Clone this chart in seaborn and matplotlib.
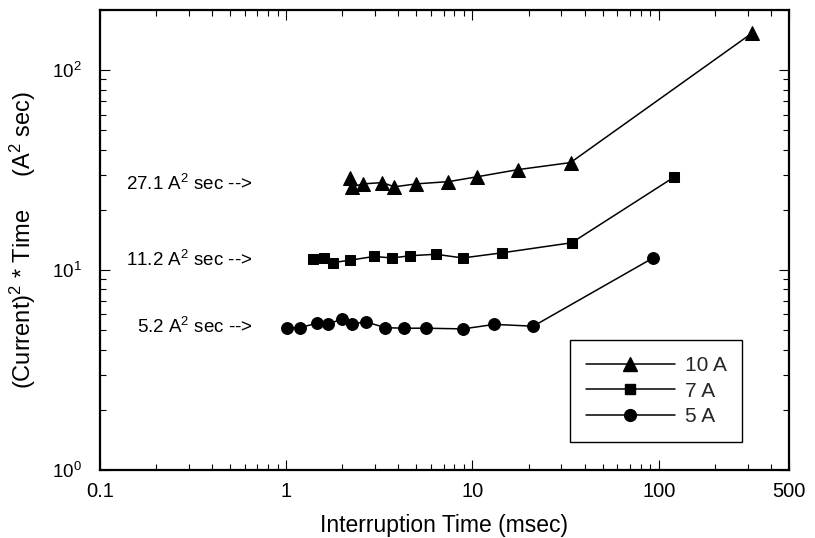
import numpy as np
import pandas as pd
import matplotlib
matplotlib.use("Agg")
import matplotlib.pyplot as plt
import seaborn as sns
from matplotlib.ticker import FixedLocator, FixedFormatter, LogLocator, NullFormatter, LogFormatterSciNotation
from matplotlib.lines import Line2D

# ---- data ----
series_names = ["10 A", "7 A", "5 A"]
time_10a = [2.21, 2.26, 2.59, 3.28, 3.81, 5.0, 7.43, 10.6, 17.5, 33.6, 316]
i2t_10a = [29.0, 26.1, 27.0, 27.4, 26.1, 27.0, 27.7, 29.3, 31.8, 34.5, 153]
time_7a = [1.40, 1.59, 1.78, 2.19, 2.96, 3.70, 4.64, 6.35, 8.87, 14.4, 34.1, 121]
i2t_7a = [11.3, 11.5, 10.9, 11.2, 11.7, 11.5, 11.8, 12.0, 11.5, 12.2, 13.7, 29.2]
time_5a = [1.01, 1.18, 1.47, 1.67, 1.99, 2.26, 2.69, 3.41, 4.31, 5.61, 8.91, 13.1, 21.2, 93.2]
i2t_5a = [5.15, 5.15, 5.43, 5.36, 5.69, 5.40, 5.50, 5.15, 5.12, 5.12, 5.08, 5.35, 5.24, 11.5]
threshold_values = [27.1, 11.2, 5.2]
threshold_labels = ["27.1 A$^{2}$ sec -->", "11.2 A$^{2}$ sec -->", "5.2 A$^{2}$ sec -->"]
x_ticks = [0.1, 1, 10, 100, 500]
x_tick_labels = ["0.1", "1", "10", "100", "500"]

markers = ["^", "s", "o"]
marker_sizes = [10, 7.5, 8.5]

sns.set_theme(style="white")
plt.rcParams["font.family"] = ["Liberation Sans", "DejaVu Sans"]
plt.rcParams["mathtext.fontset"] = "custom"
plt.rcParams["mathtext.rm"] = "Liberation Sans"
plt.rcParams["mathtext.it"] = "Liberation Sans:italic"
plt.rcParams["mathtext.bf"] = "Liberation Sans:bold"

fig = plt.figure(figsize=(8.15, 5.38), dpi=100)
ax = fig.add_axes([0.1227, 0.1264, 0.968 - 0.1227, 0.9814 - 0.1264])

frames = []
for name, t, v in zip(series_names, [time_10a, time_7a, time_5a], [i2t_10a, i2t_7a, i2t_5a]):
    frames.append(pd.DataFrame({"time": t, "i2t": v, "series": name}))
df = pd.concat(frames, ignore_index=True)

for name, m, ms in zip(series_names, markers, marker_sizes):
    sub = df[df["series"] == name]
    sns.lineplot(data=sub, x="time", y="i2t", marker=m, markersize=ms, color="black",
                 markeredgecolor="black", linewidth=1.1, estimator=None, sort=True,
                 legend=False, ax=ax)

ax.set_xscale("log")
ax.set_yscale("log")
ax.set_xlim(0.1, 500)
ax.set_ylim(1, 200)

ax.xaxis.set_major_locator(FixedLocator(x_ticks))
ax.xaxis.set_major_formatter(FixedFormatter(x_tick_labels))
ax.xaxis.set_minor_locator(LogLocator(base=10, subs=np.arange(2, 10)))
ax.xaxis.set_minor_formatter(NullFormatter())
ax.yaxis.set_major_locator(LogLocator(base=10, numticks=10))
ax.yaxis.set_major_formatter(LogFormatterSciNotation())
ax.yaxis.set_minor_locator(LogLocator(base=10, subs=np.arange(2, 10), numticks=20))
ax.yaxis.set_minor_formatter(NullFormatter())

for s in ax.spines.values():
    s.set_linewidth(1.6)
    s.set_color("black")

ax.tick_params(which="both", direction="in", top=True, right=True, bottom=True, left=True,
               color="black", width=0.8)
ax.tick_params(which="major", length=7.5)
ax.tick_params(which="minor", length=4)
ax.tick_params(axis="x", which="major", labelsize=14.5, pad=9, labelcolor="black")
ax.tick_params(axis="y", which="major", labelsize=13.5, pad=13, labelcolor="black")

ax.set_xlabel("Interruption Time (msec)", fontsize=16.5, color="black", labelpad=9)
ax.set_ylabel("(Current)$^{2}$ * Time     (A$^{2}$ sec)", fontsize=17, color="black")
ax.yaxis.set_label_coords(-0.09, 0.5)

for val, lab in zip(threshold_values, threshold_labels):
    ax.text(0.66, val, lab, ha="right", va="center", fontsize=13.5, color="black")

handles = [Line2D([], [], color="black", marker=m, markersize=ms, linewidth=1.1)
           for m, ms in zip(markers, marker_sizes)]
leg = ax.legend(handles, series_names, loc="lower right", bbox_to_anchor=(0.932, 0.061),
                frameon=True, fancybox=False, edgecolor="black", framealpha=1,
                handlelength=4.3, handletextpad=0.45, fontsize=15, borderaxespad=0,
                labelspacing=0.32, borderpad=0.75)
leg.get_frame().set_linewidth(1.0)

fig.savefig("out.png", dpi=100)
